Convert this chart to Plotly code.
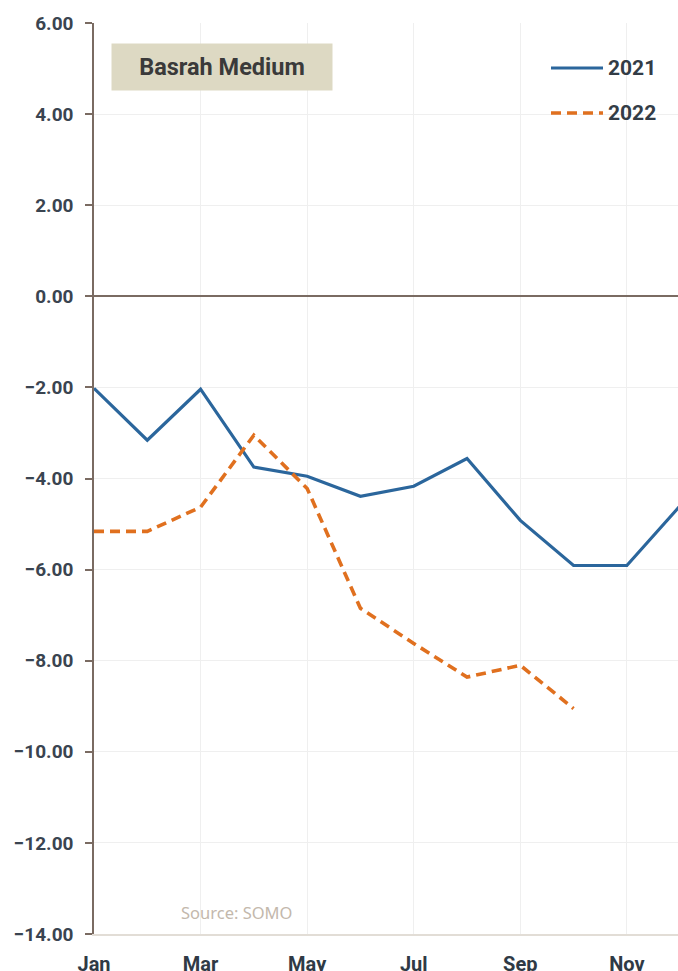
import plotly.graph_objects as go

months = ["Jan", "Feb", "Mar", "Apr", "May", "Jun", "Jul", "Aug", "Sep", "Oct", "Nov", "Dec"]
tick_labels = ["Jan", "Mar", "May", "Jul", "Sep", "Nov"]
diff_2021 = [-2.02, -3.16, -2.04, -3.75, -3.95, -4.39, -4.17, -3.56, -4.92, -5.91, -5.91, -4.60]
diff_2022 = [-5.16, -5.16, -4.63, -3.05, -4.22, -6.85, -7.62, -8.36, -8.10, -9.05]
series_names = ["2021", "2022"]
series_colors = ["#2b669c", "#e0701f"]

x_idx = list(range(len(months)))
FONT = "Roboto"
AXIS_BROWN = "#7a6b62"
DASH = "10px,6px"

# plot area in pixels, used to place paper-referenced decorations
L, T, W, H = 94, 23, 584, 911


def px(x):
    return (x - L) / W


def py(y):
    return (T + H - y) / H


fig = go.Figure()
fig.add_trace(go.Scatter(
    x=x_idx[:len(diff_2021)], y=diff_2021, name=series_names[0], mode="lines",
    line=dict(color=series_colors[0], width=3.2), showlegend=False,
))
fig.add_trace(go.Scatter(
    x=x_idx[:len(diff_2022)], y=diff_2022, name=series_names[1], mode="lines",
    line=dict(color=series_colors[1], width=3.6, dash=DASH), showlegend=False,
))

fig.update_layout(
    width=678, height=971,
    margin=dict(l=L, r=678 - L - W, t=T, b=971 - T - H),
    paper_bgcolor="white", plot_bgcolor="white",
    font=dict(family=FONT, color="#3a4450"),
    xaxis=dict(
        range=[0, 10.96],
        tickmode="array",
        tickvals=[months.index(m) for m in tick_labels],
        ticktext=tick_labels,
        showgrid=True, gridcolor="#efefef", gridwidth=1,
        showline=True, linecolor="#e2ddd6", linewidth=1.5,
        ticks="", zeroline=False, automargin=False,
        tickfont=dict(family=FONT, size=20, color="#2f3a45", weight="bold"),
        ticklabelstandoff=11,
    ),
    yaxis=dict(
        range=[-14, 6],
        tickvals=list(range(-14, 7, 2)),
        tickformat=".2f",
        showgrid=True, gridcolor="#efefef", gridwidth=1,
        showline=True, linecolor=AXIS_BROWN, linewidth=1.5,
        ticks="outside", ticklen=7, tickcolor=AXIS_BROWN, tickwidth=1.5,
        zeroline=True, zerolinecolor=AXIS_BROWN, zerolinewidth=1.5,
        automargin=False,
        tickfont=dict(family=FONT, size=19, color="#3a4450", weight="bold"),
        ticklabelstandoff=8,
    ),
)

# legend: line sample + label per series
legend_rows = [68, 113]
for name, color, row, dash, lw in zip(series_names, series_colors, legend_rows,
                                      ["solid", DASH], [3.2, 3.6]):
    fig.add_shape(
        type="line", xref="paper", yref="paper",
        x0=px(551), x1=px(603), y0=py(row), y1=py(row),
        line=dict(color=color, width=lw, dash=dash),
    )
    fig.add_annotation(
        xref="paper", yref="paper", x=px(606), y=py(row),
        xanchor="left", yanchor="middle", text=name, showarrow=False,
        font=dict(family=FONT, size=21, color="#333c46", weight="bold"),
    )

fig.add_annotation(
    xref="paper", yref="paper", x=px(111), y=py(43),
    xanchor="left", yanchor="top",
    text="Basrah Medium", showarrow=False,
    bgcolor="#ddd9c3", width=218, height=44,
    font=dict(family=FONT, size=23.5, color="#3a3a3a", weight="bold"),
)
fig.add_annotation(
    xref="paper", yref="paper", x=px(179), y=py(912),
    xanchor="left", yanchor="middle",
    text="Source: SOMO", showarrow=False,
    font=dict(family="Noto Sans", size=16.5, color="#c3b8ac"),
)

fig.write_html("out.html")
